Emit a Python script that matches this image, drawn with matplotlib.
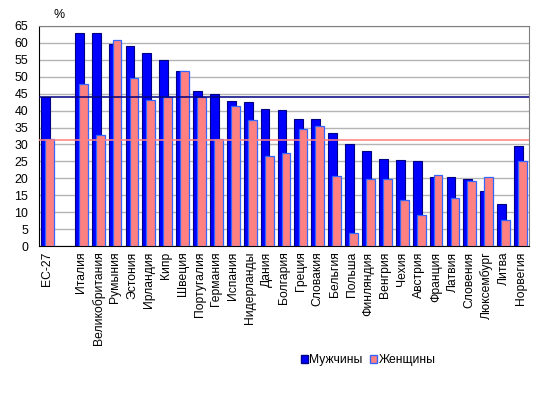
#!/usr/bin/env python3
# -*- coding: utf-8 -*-

import numpy as np
import matplotlib
matplotlib.use("Agg")
import matplotlib.pyplot as plt
from matplotlib.patches import Patch

plt.rcParams['font.family'] = ['Liberation Sans', 'DejaVu Sans']

# categories (empty slot after EU-27)
countries = ["ЕС-27", "", "Италия", "Великобритания", "Румыния", "Эстония",
             "Ирландия", "Кипр", "Швеция", "Португалия", "Германия", "Испания",
             "Нидерланды", "Дания", "Болгария", "Греция", "Словакия", "Бельгия",
             "Польша", "Финляндия", "Венгрия", "Чехия", "Австрия", "Франция",
             "Латвия", "Словения", "Люксембург", "Литва", "Норвегия"]

men = [44.1, np.nan, 62.8, 62.8, 59.6, 59.2, 56.9, 55.0, 51.6, 45.7, 44.8, 42.7,
       42.4, 40.6, 40.3, 37.4, 37.4, 33.4, 30.1, 28.1, 25.7, 25.4, 25.1, 20.4,
       20.4, 19.8, 16.2, 12.4, 29.6]
women = [31.6, np.nan, 47.9, 32.8, 60.7, 49.7, 43.2, 44.1, 51.6, 44.0, 31.6, 41.4,
         37.3, 26.7, 27.6, 34.7, 35.5, 20.7, 3.8, 19.8, 19.8, 13.5, 9.1, 21.0,
         14.1, 19.2, 20.4, 7.7, 25.1]

eu_men_level = 44.1
eu_women_level = 31.3

x = np.arange(len(countries))

fig = plt.figure(figsize=(5.44, 3.93), dpi=100)
ax = fig.add_axes([0.0717, 0.374, 0.9007, 0.560])

ax.yaxis.grid(True, color='#b4b4b4', linewidth=1)
ax.set_axisbelow(True)

ax.bar(x - 0.12, men, width=0.52, color='#0000ff', edgecolor='#000080',
       linewidth=0.8, zorder=2)
ax.bar(x + 0.12, women, width=0.52, color='#ff8080', edgecolor='#3366ff',
       linewidth=0.9, zorder=3)

# EU-27 average lines
ax.axhline(eu_men_level, color='#000080', linewidth=1.1, zorder=4)
ax.axhline(eu_women_level, color='#ff8080', linewidth=1.1, zorder=4)

ax.set_xlim(-0.5, len(countries) - 0.5)
ax.set_ylim(0, 65)
ax.set_yticks(np.arange(0, 66, 5))
ax.set_xticks(x)
ax.set_xticklabels(countries, rotation=90, fontsize=8.7)
ax.tick_params(axis='y', labelsize=8.9, length=0, pad=8)
ax.tick_params(axis='x', length=0, pad=4)

for s in ['top', 'right']:
    ax.spines[s].set_color('#808080')
for s in ['left', 'bottom']:
    ax.spines[s].set_color('black')

fig.text(0.098, 0.962, "%", fontsize=8.9, ha='left', va='center')

handles = [Patch(facecolor='#0000ff', edgecolor='#000080'),
           Patch(facecolor='#ff8080', edgecolor='#3366ff')]
fig.legend(handles, ["Мужчины", "Женщины"], loc='center',
           bbox_to_anchor=(0.677, 0.083), ncol=2, frameon=False,
           fontsize=8.7, handlelength=0.6, handleheight=0.6,
           handletextpad=0.1, columnspacing=0.6)

fig.savefig("out.png", dpi=100)
